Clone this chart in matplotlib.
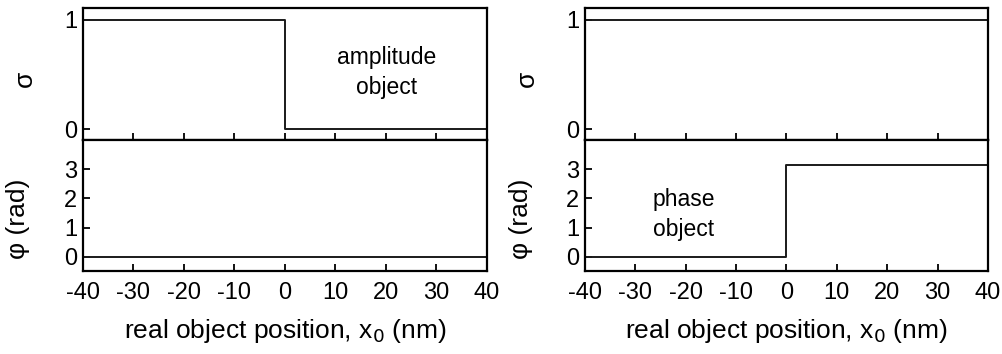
import matplotlib.pyplot as plt
import numpy as np

plt.rcParams['font.family'] = ['Liberation Sans', 'DejaVu Sans']
plt.rcParams['axes.unicode_minus'] = False

# step profiles (x in nm)
x_step = [-40, 0, 0, 40]
sigma_amp = [1, 1, 0, 0]
phi_amp = [0, 0, 0, 0]
sigma_phase = [1, 1, 1, 1]
phi_phase = [0, 0, np.pi, np.pi]

xticks = [-40, -30, -20, -10, 0, 10, 20, 30, 40]

fig = plt.figure(figsize=(10.03, 3.54), dpi=100)

fs_tick = 17
fs_label = 19
fs_note = 16.5
lw_spine = 1.6

def setup(ax, bottom):
    for s in ax.spines.values():
        s.set_linewidth(lw_spine)
    ax.tick_params(direction='in', length=5, width=1.3, labelsize=fs_tick)
    ax.tick_params(axis='x', pad=8)
    ax.tick_params(axis='y', pad=4)
    ax.set_xlim(-40, 40)
    ax.set_xticks(xticks)
    if not bottom:
        ax.tick_params(labelbottom=False)

cols = [(sigma_amp, phi_amp, 83, 487), (sigma_phase, phi_phase, 585, 988)]
W, H = 1003, 354
axes = []
for sig, phi, x0, x1 in cols:
    left = x0 / W
    width = (x1 - x0) / W
    ax_t = fig.add_axes([left, 1 - 140 / H, width, (140 - 8) / H])
    ax_b = fig.add_axes([left, 1 - 271 / H, width, (271 - 140) / H])
    ax_t.plot(x_step, sig, color='#1a1a1a', lw=1.4)
    ax_b.plot(x_step, phi, color='#1a1a1a', lw=1.4)
    setup(ax_t, False)
    setup(ax_b, True)
    ax_t.set_ylim(-0.1, 1.11)
    ax_t.set_yticks([0, 1])
    ax_b.set_ylim(-0.48, 3.99)
    ax_b.set_yticks([0, 1, 2, 3])
    ax_t.set_ylabel('σ', fontsize=fs_label)
    ax_t.yaxis.set_label_coords(-0.115, 0.46)
    ax_b.set_ylabel('φ (rad)', fontsize=fs_label)
    ax_b.yaxis.set_label_coords(-0.13, 0.40)
    ax_b.set_xlabel('real object position, x$_0$ (nm)', fontsize=fs_label)
    ax_b.xaxis.set_label_coords(0.5, -0.35)
    axes.append((ax_t, ax_b))

axes[0][0].text(20.2, 0.52, 'amplitude\nobject', ha='center', va='center',
                fontsize=fs_note, linespacing=1.4)
axes[1][1].text(-26.5, 1.45, 'phase\nobject', ha='left', va='center',
                fontsize=fs_note, linespacing=1.4)

fig.savefig('out.png', dpi=100)
